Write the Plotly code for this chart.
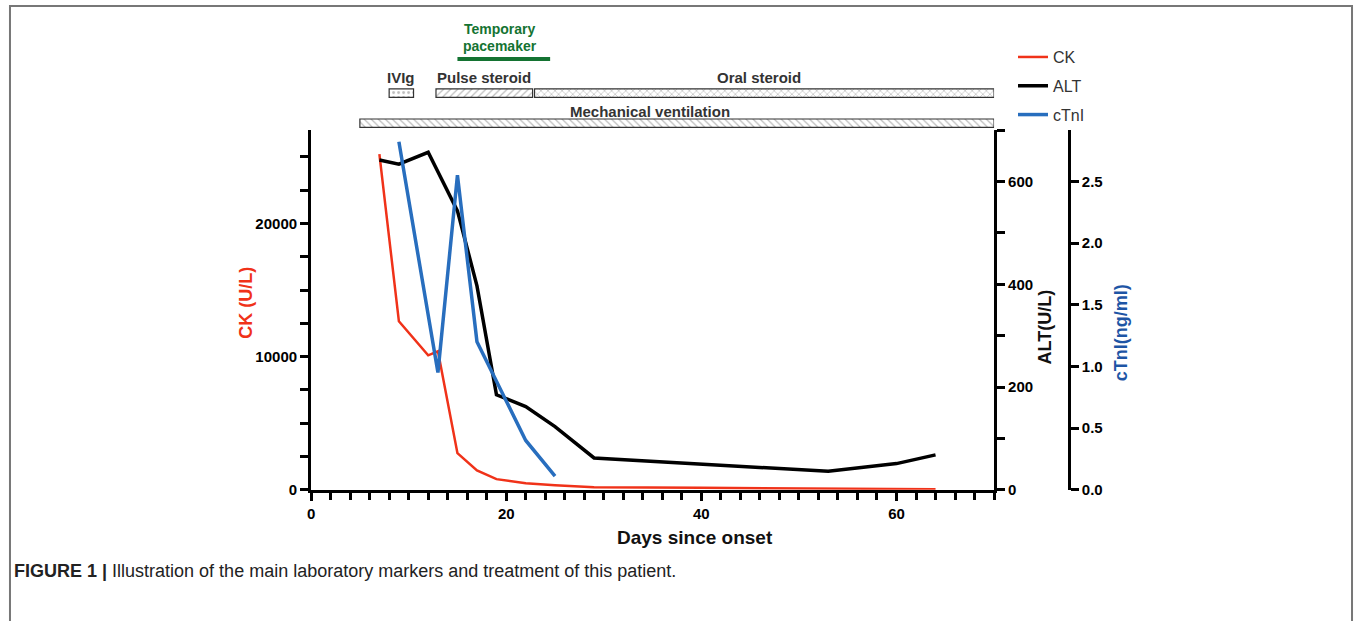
import plotly.graph_objects as go

W, H = 1357, 612  # effective drawing area observed in the browser

# ---------------- data ----------------
ck_days = [7, 9, 12, 13, 15, 17, 19, 22, 25, 29, 40, 53, 60, 64]
ck_vals = [25200, 12650, 10100, 10400, 2750, 1450, 800, 500, 350, 200, 150, 90, 70, 50]

alt_days = [7, 9, 12, 15, 17, 19, 22, 25, 29, 53, 60, 64]
alt_vals = [642, 634, 657, 543, 397, 185, 162, 123, 62, 36, 51, 68]

ctni_days = [9, 13, 15, 17, 22, 25]
ctni_vals = [2.82, 0.95, 2.55, 1.20, 0.40, 0.11]

treat_names = ["Mechanical ventilation", "IVIg", "Pulse steroid", "Oral steroid"]
treat_start = [5, 8, 12.8, 22.9]
treat_end = [70, 10.5, 22.7, 70]
treat_row = [0, 1, 1, 1]
treat_pattern = ["\\", ".", "/", "x"]

pacemaker_start, pacemaker_end = 15, 24.5

# ---------------- helpers ----------------
def px(x):
    return x / W

def py(y):
    return 1 - y / H

FONT = "Arial, Liberation Sans, Helvetica, sans-serif"
RED = "rgb(240,50,25)"
BLUE = "rgb(40,110,190)"
BLUE_T = "rgb(30,85,165)"
GREEN = "rgb(20,115,50)"

fig = go.Figure()

fig.add_trace(go.Scatter(x=ck_days, y=ck_vals, mode="lines", name="CK", legendgroup="a",
                         line=dict(color=RED, width=2.5), yaxis="y"))
fig.add_trace(go.Scatter(x=alt_days, y=alt_vals, mode="lines", name="ALT", legendgroup="b",
                         line=dict(color="black", width=3.5), yaxis="y2"))
fig.add_trace(go.Scatter(x=ctni_days, y=ctni_vals, mode="lines", name="cTnI", legendgroup="c",
                         line=dict(color=BLUE, width=3.5), yaxis="y3"))

# treatment bars (hatched)
fig.add_trace(go.Bar(
    y=treat_row,
    x=[e - s for s, e in zip(treat_start, treat_end)],
    base=treat_start,
    orientation="h",
    width=0.28,
    xaxis="x2", yaxis="y4",
    showlegend=False, hoverinfo="skip",
    marker=dict(color="white",
                line=dict(color="#333", width=1.2),
                pattern=dict(shape=treat_pattern, fgcolor="#777", bgcolor="white",
                             size=5, solidity=0.25)),
))

tick_font = dict(family=FONT, size=15, color="black", weight="bold")
dom_x = [px(308), px(993)]
dom_y = [py(489), py(130)]

fig.update_layout(
    autosize=True,
    margin=dict(l=0, r=0, t=0, b=0),
    paper_bgcolor="white", plot_bgcolor="white",
    font=dict(family=FONT),
    barmode="overlay",
    xaxis=dict(domain=dom_x, range=[0, 70], showgrid=False, zeroline=False,
               showline=True, linecolor="black", linewidth=3,
               ticks="outside", ticklen=8, tickwidth=2.5, tickcolor="black",
               tickmode="linear", tick0=0, dtick=20, tickfont=tick_font,
               minor=dict(dtick=2, ticks="outside", ticklen=7, tickwidth=2.5, tickcolor="black")),
    yaxis=dict(domain=dom_y, range=[0, 27000], showgrid=False, zeroline=False,
               showline=True, linecolor="black", linewidth=3,
               ticks="outside", ticklen=8, tickwidth=2.5, tickcolor="black",
               tickmode="linear", tick0=0, dtick=10000, tickformat="d", tickfont=tick_font,
               minor=dict(dtick=2500, ticks="outside", ticklen=8, tickwidth=2.5, tickcolor="black")),
    yaxis2=dict(overlaying="y", side="right", anchor="x", range=[0, 700],
                showgrid=False, zeroline=False,
                showline=True, linecolor="black", linewidth=3,
                ticks="outside", ticklen=8, tickwidth=2.5, tickcolor="black",
                tickmode="linear", tick0=0, dtick=200, tickfont=tick_font,
                minor=dict(dtick=100, ticks="outside", ticklen=8, tickwidth=2.5, tickcolor="black")),
    yaxis3=dict(overlaying="y", side="right", anchor="free", position=px(1068),
                range=[0, 2.914], showgrid=False, zeroline=False,
                showline=True, linecolor="black", linewidth=3,
                ticks="outside", ticklen=8, tickwidth=2.5, tickcolor="black",
                tickmode="linear", tick0=0, dtick=0.5, tickformat=".1f", tickfont=tick_font),
    xaxis2=dict(domain=dom_x, range=[0, 70], anchor="y4", visible=False),
    yaxis4=dict(domain=[py(131), py(80)], range=[-8 / 30, -8 / 30 + 51 / 30],
                anchor="x2", visible=False),
    legend=dict(x=px(1012), y=py(40), xanchor="left", yanchor="top",
                font=dict(family=FONT, size=16, color="#333"),
                bgcolor="rgba(0,0,0,0)", itemwidth=30, tracegroupgap=5),
    showlegend=True,
)

annotations = []
# axis titles
annotations.append(dict(text="<b>CK (U/L)</b>", x=px(243), y=py(302), xref="paper", yref="paper",
                        xanchor="center", yanchor="middle",
                        textangle=-90, showarrow=False,
                        font=dict(family=FONT, size=18, color=RED)))
annotations.append(dict(text="<b>ALT(U/L)</b>", x=px(1044), y=py(326), xref="paper", yref="paper",
                        xanchor="center", yanchor="middle",
                        textangle=-90, showarrow=False,
                        font=dict(family=FONT, size=18, color="#111")))
annotations.append(dict(text="<b>cTnI(ng/ml)</b>", x=px(1120), y=py(332), xref="paper", yref="paper",
                        xanchor="center", yanchor="middle",
                        textangle=-90, showarrow=False,
                        font=dict(family=FONT, size=18, color=BLUE_T)))
annotations.append(dict(text="<b>Days since onset</b>", x=px(693), y=py(537), xref="paper", yref="paper",
                        xanchor="center", yanchor="middle", showarrow=False,
                        font=dict(family=FONT, size=19, color="#111")))

# treatment labels (label anchor positions in days, layout only)
lab_font = dict(family=FONT, size=15, color="#333")
label_x = [34.7, 9.2, 17.7, 45.9]
label_y = [111, 77, 77, 77]
for name, lx, ly in zip(treat_names, label_x, label_y):
    annotations.append(dict(text=f"<b>{name}</b>", x=lx, y=py(ly), xref="x", yref="paper",
                            xanchor="center", yanchor="middle",
                            showarrow=False, font=lab_font))

for txt, ly in zip(["Temporary", "pacemaker"], [29, 46]):
    annotations.append(dict(text=f"<b>{txt}</b>", x=19.4,
                            y=py(ly), xref="x", yref="paper", xanchor="center", yanchor="middle",
                            showarrow=False, borderpad=0,
                            font=dict(family=FONT, size=14, color=GREEN)))

# caption
annotations.append(dict(text="<b>FIGURE 1 |</b> Illustration of the main laboratory markers and treatment of this patient.",
                        x=px(8), y=py(570), xref="paper", yref="paper", xanchor="left", yanchor="middle",
                        showarrow=False, font=dict(family=FONT, size=18, color="#222")))

fig.update_layout(annotations=annotations)

shapes = [
    dict(type="line", xref="x", yref="paper", x0=pacemaker_start, x1=pacemaker_end,
         y0=py(59), y1=py(59), line=dict(color=GREEN, width=4)),
    dict(type="rect", xref="paper", yref="paper", x0=px(6), x1=px(1352), y0=-0.1, y1=py(6),
         line=dict(color="#777", width=2), fillcolor="rgba(0,0,0,0)", layer="below"),
]
fig.update_layout(shapes=shapes)

fig.write_html("out.html",
               config={"displayModeBar": False},
               default_width="100vw", default_height="100vh",
               post_script="document.body.style.margin='0';document.body.style.overflow='hidden';")
